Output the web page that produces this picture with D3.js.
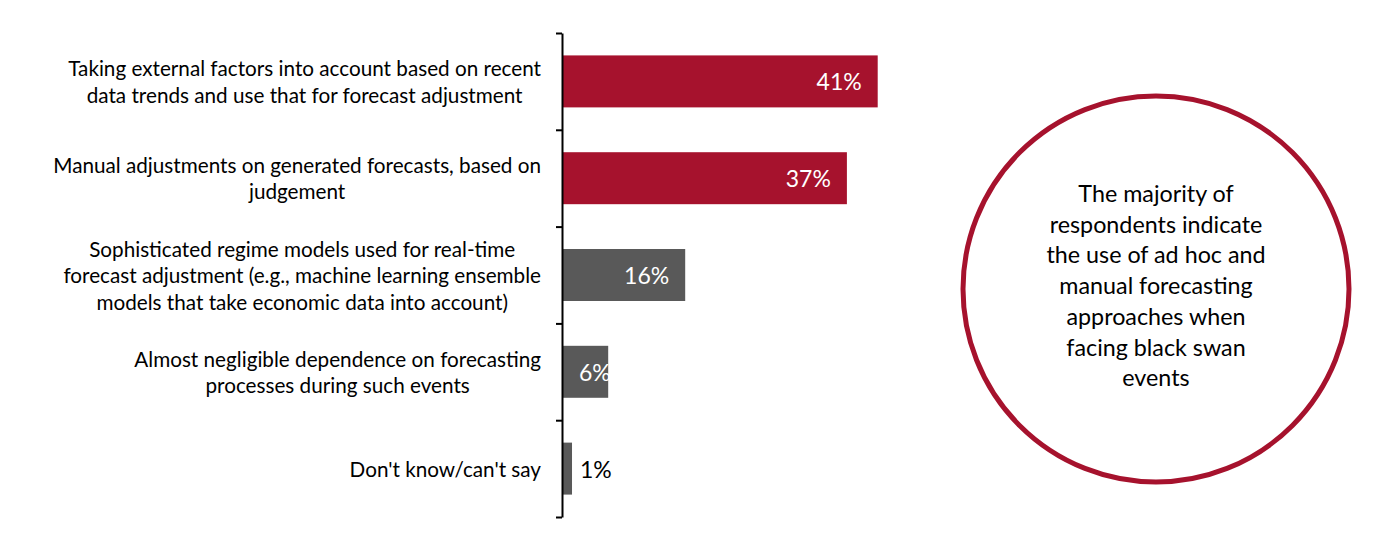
<!DOCTYPE html>
<html>
<head>
<meta charset="utf-8">
<script src="https://cdn.jsdelivr.net/npm/d3@7"></script>
<style>
  html, body { margin: 0; padding: 0; background: #fff; }
  svg { display: block; }
  text { font-family: Lato, "Open Sans", sans-serif; }
</style>
</head>
<body>
<svg id="chart" width="1397" height="547"></svg>
<script>
// ---- data ----
const categories = [
  ["Taking external factors into account based on recent", "data trends and use that for forecast adjustment"],
  ["Manual adjustments on generated forecasts, based on", "judgement"],
  ["Sophisticated regime models used for real-time", "forecast adjustment (e.g., machine learning ensemble", "models that take economic data into account)"],
  ["Almost negligible dependence on forecasting", "processes during such events"],
  ["Don't know/can't say"]
];
const values = [41, 37, 16, 6, 1.3];
const highlight = [true, true, false, false, false];
const calloutLines = [
  "The majority of",
  "respondents indicate",
  "the use of ad hoc and",
  "manual forecasting",
  "approaches when",
  "facing black swan",
  "events"
];

// ---- layout ----
const RED = "#A6122D", GREY = "#595959";
const svg = d3.select("#chart");
const axisX = 562, plotTop = 33, plotBottom = 517;
const ids = d3.range(categories.length);

const y = d3.scaleBand().domain(ids).range([plotTop, plotBottom])
  .paddingInner(0.463).paddingOuter(0.2315);
const x = d3.scaleLinear().domain([0, 50]).range([axisX, axisX + 7.7 * 50]);

// bars
svg.append("g").selectAll("rect").data(ids).join("rect")
  .attr("x", x(0))
  .attr("y", i => y(i))
  .attr("width", i => x(values[i]) - x(0))
  .attr("height", y.bandwidth())
  .attr("fill", i => highlight[i] ? RED : GREY);

// axis (boundary ticks)
const yb = d3.scaleLinear().domain([0, categories.length]).range([plotTop, plotBottom]);
const axis = svg.append("g").attr("transform", `translate(${axisX},0)`)
  .call(d3.axisLeft(yb).ticks(categories.length).tickFormat("").tickSize(6).tickSizeOuter(0));
axis.select(".domain").attr("stroke", "#000").attr("stroke-width", 2);
axis.selectAll(".tick line").attr("stroke", "#000").attr("stroke-width", 2);

// category labels (block centered, widest line right-aligned at 541)
const labelRight = 541, lineH = 26.5, labelSize = 20.7;
ids.forEach(i => {
  const lines = categories[i];
  const g = svg.append("g");
  const texts = g.selectAll("text").data(lines).join("text")
    .attr("font-size", labelSize)
    .attr("fill", "#000")
    .attr("text-anchor", "middle")
    .attr("dominant-baseline", "central")
    .text(d => d);
  let maxW = 0;
  texts.each(function() { maxW = Math.max(maxW, this.getComputedTextLength()); });
  const cx = labelRight - maxW / 2;
  const cy = y(i) + y.bandwidth() / 2;
  texts.attr("x", cx)
    .attr("y", (d, k) => cy + (k - (lines.length - 1) / 2) * lineH);
});

// value labels
const valSize = 23;
ids.forEach(i => {
  const v = values[i];
  const label = Math.round(v) + "%";
  const t = svg.append("text")
    .attr("font-size", valSize)
    .attr("dominant-baseline", "central")
    .attr("y", y(i) + y.bandwidth() / 2)
    .text(label);
  const w = t.node().getComputedTextLength();
  const barW = x(v) - x(0);
  if (barW > 30) {
    const xr = Math.max(x(v) - 16, x(0) + 17 + w);
    t.attr("text-anchor", "end").attr("x", xr).attr("fill", "#fff");
  } else {
    t.attr("text-anchor", "start").attr("x", x(v) + 8).attr("fill", "#000");
  }
});

// callout circle
const cX = 1156, cY = 289, r = 193;
svg.append("circle").attr("cx", cX).attr("cy", cY).attr("r", r)
  .attr("fill", "none").attr("stroke", RED).attr("stroke-width", 5);
const cLineH = 30.7;
svg.append("g").selectAll("text").data(calloutLines).join("text")
  .attr("x", cX)
  .attr("y", (d, k) => 193 + k * cLineH)
  .attr("text-anchor", "middle")
  .attr("dominant-baseline", "central")
  .attr("font-size", 23.3)
  .attr("fill", "#000")
  .text(d => d);
</script>
</body>
</html>
